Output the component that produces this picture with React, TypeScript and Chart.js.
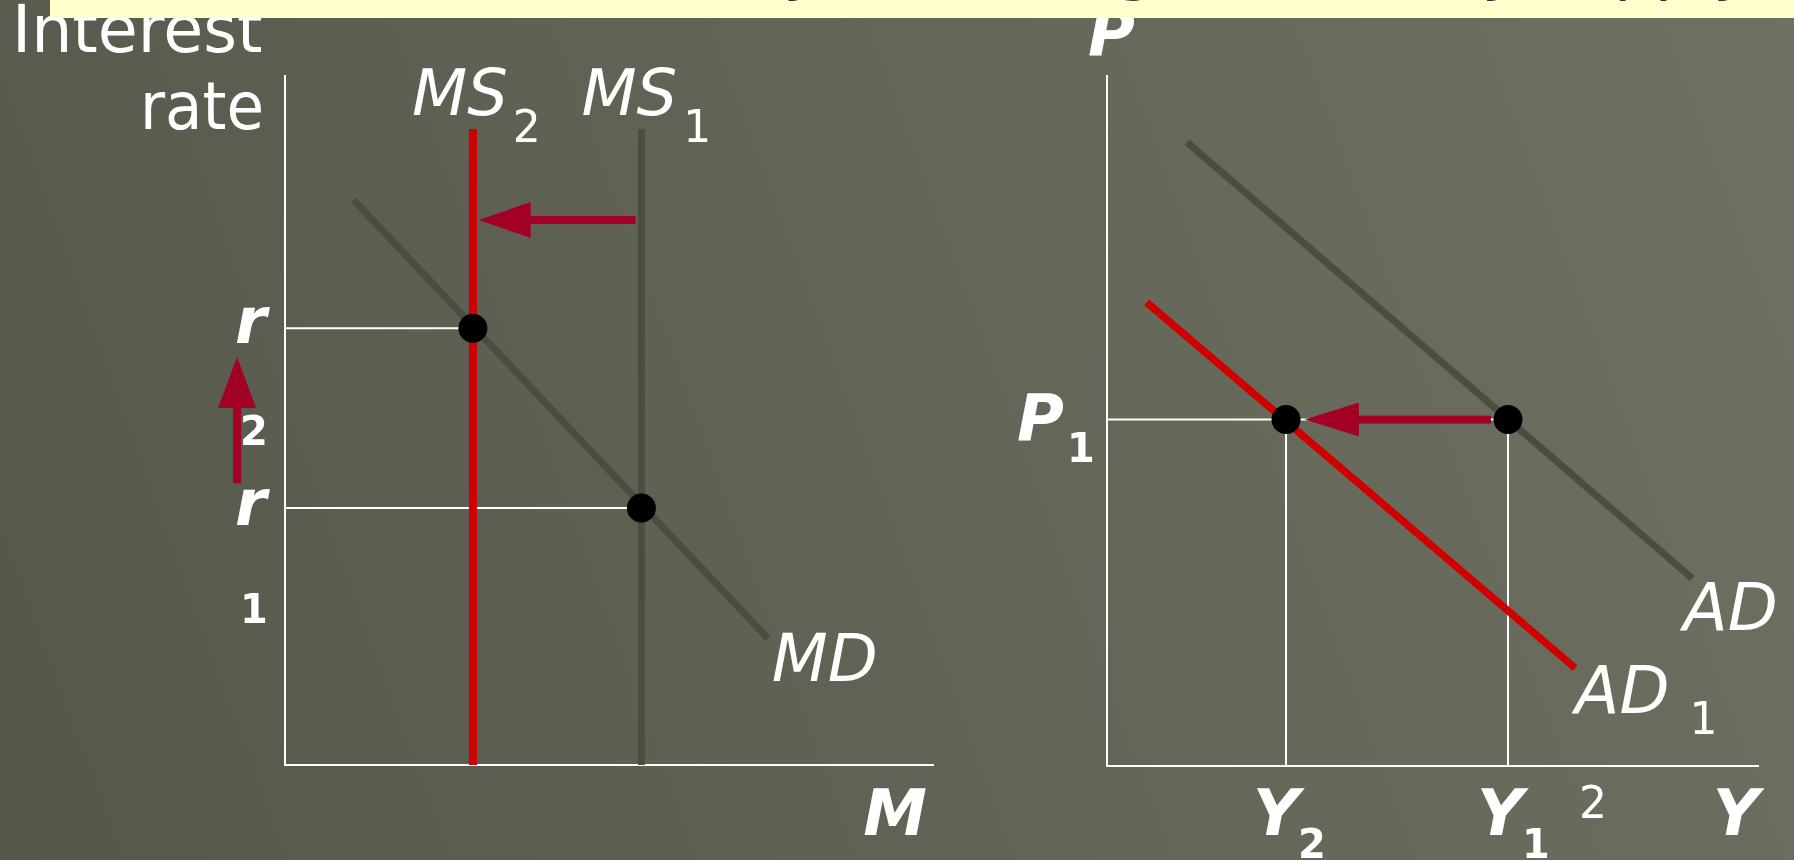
import React, { useEffect, useRef } from "react";
import { Chart, registerables } from "chart.js";
Chart.register(...registerables);

// ---------- Left panel: money market ----------
const moneyRange = [0, 10];
const rateRange = [0, 10];
const ms1Quantity = 5.5;
const ms2Quantity = 2.9;
const msTopRate = 9.23;
const mdQuantities = [1.06, 7.45];
const mdRates = [8.2, 1.84];
const r1Rate = 3.73;
const r2Rate = 6.34;
const msShiftArrowRate = 7.91;
const msShiftArrowQuantities = [5.41, 2.99];
const rateArrowQuantity = -0.74;
const rateArrowRates = [4.09, 5.92];

// ---------- Right panel: AD ----------
const outputRange = [0, 10];
const priceRange = [0, 10];
const adOutputs = [1.23, 8.99];
const adPrices = [9.04, 2.72];
const ad1Outputs = [0.61, 7.19];
const ad1Prices = [6.72, 1.42];
const y1Output = 6.16;
const y2Output = 2.75;
const p1Price = 5.02;
const adShiftArrowOutputs = [5.9, 3.04];

const titleText = "Monetary: Reducing the money supply";

const GRAY = "#4B4D41";
const RED = "#D00000";
const ARROW = "#A30026";
const WHITE = "#FFFFFF";
const FONT = '"DejaVu Sans", Verdana, sans-serif';

function txt(ctx: CanvasRenderingContext2D, s: string, x: number, y: number, font: string, align: CanvasTextAlign = "left", sx = 1) {
  ctx.save();
  ctx.font = font;
  ctx.fillStyle = WHITE;
  ctx.textAlign = align;
  ctx.textBaseline = "alphabetic";
  ctx.translate(x, y);
  ctx.scale(sx, 1);
  ctx.fillText(s, 0, 0);
  ctx.restore();
}
function width(ctx: CanvasRenderingContext2D, s: string, font: string) {
  ctx.save();
  ctx.font = font;
  const w = ctx.measureText(s).width;
  ctx.restore();
  return w;
}
function arrow(ctx: CanvasRenderingContext2D, x0: number, y0: number, x1: number, y1: number, shaft: number, headLen: number, headHalf: number) {
  const ang = Math.atan2(y1 - y0, x1 - x0);
  const len = Math.hypot(x1 - x0, y1 - y0);
  ctx.save();
  ctx.translate(x0, y0);
  ctx.rotate(ang);
  ctx.fillStyle = ARROW;
  ctx.fillRect(0, -shaft / 2, len - headLen + 1, shaft);
  ctx.beginPath();
  ctx.moveTo(len, 0);
  ctx.lineTo(len - headLen, -headHalf);
  ctx.lineTo(len - headLen, headHalf);
  ctx.closePath();
  ctx.fill();
  ctx.restore();
}

const NORMAL = (s: number) => `${s}px ${FONT}`;
const ITAL = (s: number) => `italic ${s}px ${FONT}`;
const BOLDI = (s: number) => `italic bold ${s}px ${FONT}`;
const BOLD = (s: number) => `bold ${s}px ${FONT}`;

function axisScale(range: number[]) {
  return {
    type: "linear" as const,
    min: range[0],
    max: range[1],
    ticks: { display: false },
    grid: { display: false, drawTicks: false },
    border: { display: true, color: WHITE, width: 2 },
  };
}

function line(label: string, xs: number[], ys: number[], color: string, w: number, order: number) {
  return {
    label,
    data: xs.map((x, i) => ({ x, y: ys[i] })),
    showLine: true,
    borderColor: color,
    borderWidth: w,
    pointRadius: 0,
    order,
  };
}

export default function App() {
  const leftRef = useRef<HTMLCanvasElement>(null);
  const rightRef = useRef<HTMLCanvasElement>(null);

  useEffect(() => {
    const leftPlugin = {
      id: "leftDecor",
      afterDraw(chart: any) {
        const ctx = chart.ctx as CanvasRenderingContext2D;
        const xs = chart.scales.x, ys = chart.scales.y, ca = chart.chartArea;
        arrow(ctx, xs.getPixelForValue(msShiftArrowQuantities[0]), ys.getPixelForValue(msShiftArrowRate),
          xs.getPixelForValue(msShiftArrowQuantities[1]), ys.getPixelForValue(msShiftArrowRate), 8, 52, 18);
        arrow(ctx, xs.getPixelForValue(rateArrowQuantity), ys.getPixelForValue(rateArrowRates[0]),
          xs.getPixelForValue(rateArrowQuantity), ys.getPixelForValue(rateArrowRates[1]), 8, 51, 19);
        txt(ctx, "Interest", ca.left - 273, 52, NORMAL(65));
        txt(ctx, "rate", ca.left - 21, ca.top + 53, NORMAL(65), "right", 0.94);
        const msF = ITAL(64);
        const ms2x = xs.getPixelForValue(ms2Quantity) - 61;
        txt(ctx, "MS", ms2x, ca.top + 39, msF);
        txt(ctx, "2", ms2x + width(ctx, "MS", msF) + 5, ca.top + 66, NORMAL(44));
        const ms1x = xs.getPixelForValue(ms1Quantity) - 60;
        txt(ctx, "MS", ms1x, ca.top + 39, msF);
        txt(ctx, "1", ms1x + width(ctx, "MS", msF) + 6, ca.top + 66, NORMAL(44));
        txt(ctx, "MD", xs.getPixelForValue(mdQuantities[1]) + 4, ys.getPixelForValue(mdRates[1]) + 43, ITAL(65));
        const yr2 = ys.getPixelForValue(r2Rate), yr1 = ys.getPixelForValue(r1Rate);
        txt(ctx, "r", ca.left - 50, yr2 + 15, BOLDI(64));
        txt(ctx, "2", ca.left - 45, yr2 + 117, BOLD(40));
        txt(ctx, "r", ca.left - 50, yr1 + 17, BOLDI(64));
        txt(ctx, "1", ca.left - 45, yr1 + 115, BOLD(40));
        txt(ctx, "M", ca.right - 6, ca.bottom + 70, BOLDI(64), "right");
      },
    };

    const rightPlugin = {
      id: "rightDecor",
      afterDraw(chart: any) {
        const ctx = chart.ctx as CanvasRenderingContext2D;
        const xs = chart.scales.x, ys = chart.scales.y, ca = chart.chartArea;
        const yp1 = ys.getPixelForValue(p1Price);
        arrow(ctx, xs.getPixelForValue(adShiftArrowOutputs[0]), yp1, xs.getPixelForValue(adShiftArrowOutputs[1]), yp1, 8, 54, 17);
        txt(ctx, "P", ca.left - 19, ca.top - 21, BOLDI(64));
        txt(ctx, "P", ca.left - 90, yp1 + 20, BOLDI(64));
        txt(ctx, "1", ca.left - 40, yp1 + 42, BOLD(40));
        const xy2 = xs.getPixelForValue(y2Output), xy1 = xs.getPixelForValue(y1Output);
        txt(ctx, "Y", xy2 - 33, ca.bottom + 69, BOLDI(64));
        txt(ctx, "2", xy2 + 12, ca.bottom + 92, BOLD(40));
        txt(ctx, "Y", xy1 - 31, ca.bottom + 69, BOLDI(64));
        txt(ctx, "1", xy1 + 14, ca.bottom + 92, BOLD(40));
        txt(ctx, "2", xy1 + 71, ca.bottom + 52, NORMAL(44));
        txt(ctx, "Y", ca.right + 1, ca.bottom + 69, BOLDI(64), "right");
        const adEndX = xs.getPixelForValue(adOutputs[1]), adEndY = ys.getPixelForValue(adPrices[1]);
        txt(ctx, "AD", adEndX - 9, adEndY + 52, ITAL(65));
        const ad1EndX = xs.getPixelForValue(ad1Outputs[1]), ad1EndY = ys.getPixelForValue(ad1Prices[1]);
        txt(ctx, "AD", ad1EndX, ad1EndY + 45, ITAL(65));
        txt(ctx, "1", ad1EndX + width(ctx, "AD", ITAL(65)) + 20, ad1EndY + 66, NORMAL(44));
      },
    };

    const common = (pad: any) => ({
      animation: false as const,
      responsive: false,
      maintainAspectRatio: false,
      events: [] as any[],
      layout: { padding: pad },
      plugins: { legend: { display: false }, tooltip: { enabled: false } },
    });

    const left = new Chart(leftRef.current!, {
      type: "scatter",
      data: {
        datasets: [
          { label: "Equilibria", data: [{ x: ms2Quantity, y: r2Rate }, { x: ms1Quantity, y: r1Rate }], pointRadius: 14.5, pointBackgroundColor: "#000", pointBorderWidth: 0, order: 0 } as any,
          line("MS2", [ms2Quantity, ms2Quantity], [0, msTopRate], RED, 8, 1),
          line("r2 guide", [moneyRange[0], ms2Quantity], [r2Rate, r2Rate], WHITE, 2, 2),
          line("r1 guide", [moneyRange[0], ms1Quantity], [r1Rate, r1Rate], WHITE, 2, 3),
          line("MD", mdQuantities, mdRates, GRAY, 7, 4),
          line("MS1", [ms1Quantity, ms1Quantity], [0, msTopRate], GRAY, 7, 5),
        ],
      },
      options: {
        ...common({ left: 285, right: 67, top: 76, bottom: 95 }),
        scales: { x: axisScale(moneyRange), y: axisScale(rateRange) },
      } as any,
      plugins: [leftPlugin],
    });

    const right = new Chart(rightRef.current!, {
      type: "scatter",
      data: {
        datasets: [
          { label: "Equilibria", data: [{ x: y2Output, y: p1Price }, { x: y1Output, y: p1Price }], pointRadius: 14.5, pointBackgroundColor: "#000", pointBorderWidth: 0, order: 0 } as any,
          line("AD1", ad1Outputs, ad1Prices, RED, 7.5, 1),
          line("AD", adOutputs, adPrices, GRAY, 7, 2),
          line("P1 guide", [outputRange[0], y1Output], [p1Price, p1Price], WHITE, 2, 3),
          line("Y2 guide", [y2Output, y2Output], [priceRange[0], p1Price], WHITE, 2, 4),
          line("Y1 guide", [y1Output, y1Output], [priceRange[0], p1Price], WHITE, 2, 5),
        ],
      },
      options: {
        ...common({ left: 107, right: 36, top: 76, bottom: 94 }),
        scales: { x: axisScale(outputRange), y: axisScale(priceRange) },
      } as any,
      plugins: [rightPlugin],
    });

    return () => {
      left.destroy();
      right.destroy();
    };
  }, []);

  return (
    <div
      style={{
        position: "fixed",
        left: 0,
        top: 0,
        width: 1794,
        height: 860,
        overflow: "hidden",
        background: "linear-gradient(70deg, #55574B 0%, #5E6054 35%, #66685A 65%, #6E7062 100%)",
      }}
    >
      <canvas ref={leftRef} width={1000} height={860} style={{ position: "absolute", left: 0, top: 0, width: 1000, height: 860 }} />
      <canvas ref={rightRef} width={794} height={860} style={{ position: "absolute", left: 1000, top: 0, width: 794, height: 860 }} />
      <div
        style={{
          position: "absolute",
          left: 50,
          top: 0,
          width: 1744,
          height: 18,
          background: "#FFFFCC",
          overflow: "hidden",
          zIndex: 2,
        }}
      >
        <div
          style={{
            position: "absolute",
            right: 43,
            top: -66,
            whiteSpace: "nowrap",
            font: `64px ${FONT}`,
            lineHeight: "64px",
            color: "#333333",
          }}
        >
          {titleText}
        </div>
      </div>
    </div>
  );
}
